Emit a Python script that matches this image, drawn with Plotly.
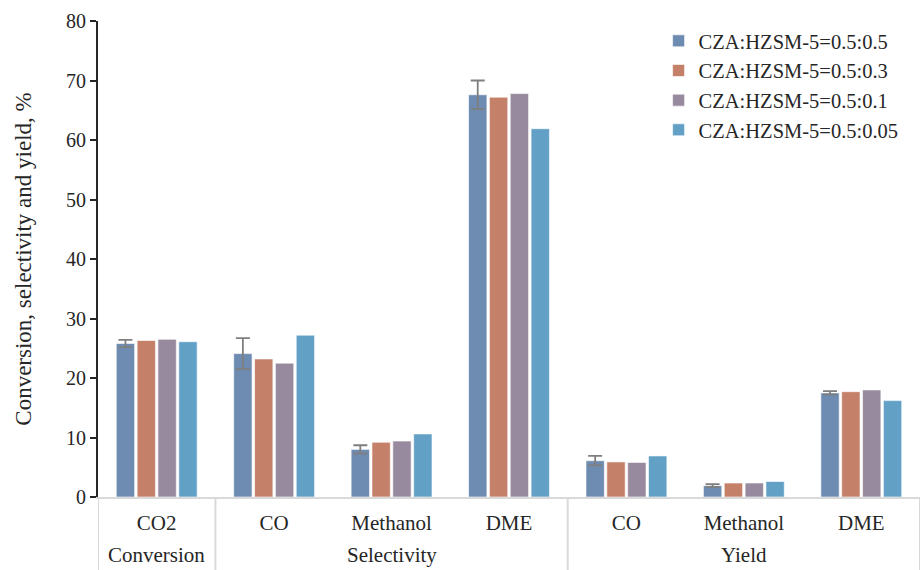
import plotly.graph_objects as go

# Category structure: outer group / inner product
groups = ["Conversion", "Selectivity", "Selectivity", "Selectivity", "Yield", "Yield", "Yield"]
products = ["CO2", "CO", "Methanol", "DME", "CO", "Methanol", "DME"]

series_names = [
    "CZA:HZSM-5=0.5:0.5",
    "CZA:HZSM-5=0.5:0.3",
    "CZA:HZSM-5=0.5:0.1",
    "CZA:HZSM-5=0.5:0.05",
]

ratio_05 = [25.8, 24.1, 8.0, 67.6, 6.1, 1.9, 17.5]
ratio_03 = [26.3, 23.2, 9.2, 67.2, 5.9, 2.35, 17.7]
ratio_01 = [26.5, 22.5, 9.4, 67.8, 5.8, 2.35, 18.0]
ratio_005 = [26.1, 27.2, 10.6, 61.9, 6.9, 2.6, 16.2]

# Standard deviation, reported for the 0.5:0.5 catalyst only
err_05 = [0.6, 2.6, 0.7, 2.4, 0.8, 0.25, 0.3]

colors = ["#6e8bb1", "#c5806a", "#978a9e", "#62a0c5"]
serif = "Liberation Serif, Times New Roman, serif"
text_color = "#262626"
divider_color = "#d9d9d9"

# Each product occupies one slot on a numeric axis
xpos = list(range(len(products)))

fig = go.Figure()
all_values = [ratio_05, ratio_03, ratio_01, ratio_005]
for i, (name, vals) in enumerate(zip(series_names, all_values)):
    kw = {}
    if i == 0:
        kw["error_y"] = dict(type="data", array=err_05, visible=True,
                             color="#7f7f7f", thickness=1.8, width=7)
    fig.add_trace(go.Bar(
        x=xpos, y=vals, name=name,
        marker=dict(color=colors[i], line=dict(color="rgba(255,255,255,0.6)", width=1)),
        **kw,
    ))

# Outer group spans: (label, first slot, last slot)
spans = []
for idx, g in enumerate(groups):
    if spans and spans[-1][0] == g:
        spans[-1][2] = idx
    else:
        spans.append([g, idx, idx])

# Group labels under the product labels, with dividers between groups
for label, start, end in spans:
    fig.add_annotation(
        x=(start + end) / 2, y=-0.122, xref="x", yref="paper",
        text=label, showarrow=False, yanchor="middle",
        font=dict(family=serif, size=21, color=text_color),
    )
boundaries = [spans[0][1] - 0.5] + [s[2] + 0.5 for s in spans]
for b in boundaries:
    fig.add_shape(
        type="line", xref="x", yref="paper",
        x0=b, x1=b, y0=0, y1=-0.16,
        line=dict(color=divider_color, width=2),
    )

fig.update_layout(
    width=920, height=570,
    margin=dict(l=98, r=0, t=21, b=73),
    paper_bgcolor="white", plot_bgcolor="white",
    barmode="group", bargap=0.29, bargroupgap=0.12,
    font=dict(family=serif, size=20, color=text_color),
    legend=dict(x=0.682, y=1.0, xanchor="left", yanchor="top",
                font=dict(family=serif, size=20.5, color=text_color),
                bgcolor="rgba(0,0,0,0)"),
    showlegend=True,
)
fig.update_yaxes(
    range=[0, 80], dtick=10, showgrid=False,
    showline=True, linecolor=text_color, linewidth=2,
    ticks="outside", ticklen=6, tickcolor=text_color, tickwidth=2,
    tickfont=dict(family=serif, size=20),
    title=dict(text="Conversion, selectivity and yield, %",
               font=dict(family=serif, size=23), standoff=28),
    automargin=False, zeroline=False,
)
fig.update_xaxes(
    range=[-0.5, len(products) - 0.5],
    tickmode="array", tickvals=xpos, ticktext=products,
    showgrid=False, zeroline=False,
    showline=True, linecolor=divider_color, linewidth=2,
    ticks="", tickfont=dict(family=serif, size=21, color=text_color),
    ticklabelstandoff=6,
    automargin=False,
)

fig.write_html("out.html")
